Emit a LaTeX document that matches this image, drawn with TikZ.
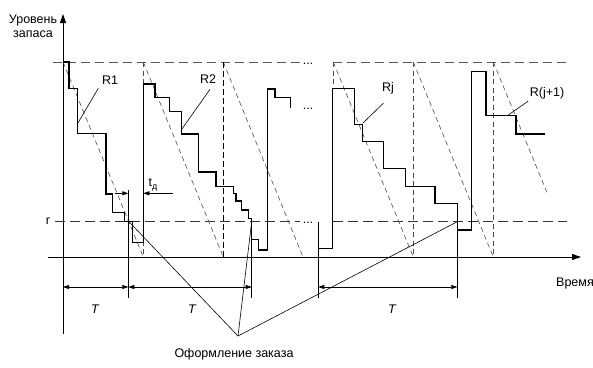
\documentclass[tikz,border=0pt]{standalone}
\usepackage{fontspec}
\setmainfont{Liberation Sans}
\usetikzlibrary{arrows.meta}
\begin{document}
\begin{tikzpicture}[x=1pt,y=-1pt,
  lbl/.style={font=\fontsize{12.5}{14}\selectfont, inner sep=0pt},
  stair/.style={line width=1.05pt, line join=miter},
  axisline/.style={line width=0.9pt, -{Triangle[length=9pt,width=6pt]}},
  thinline/.style={line width=0.6pt},
  demand/.style={line width=0.6pt, gray!60!black, dash pattern=on 5pt off 3.5pt},
  maxlevel/.style={line width=0.7pt, gray!70!black, dash pattern=on 9pt off 5pt},
  reorder/.style={line width=1.3pt, black!80, dash pattern=on 10pt off 5pt},
  cyclemark/.style={line width=1pt, dash pattern=on 6pt off 3pt},
  dimline/.style={line width=0.6pt, {Triangle[length=6pt,width=4pt]}-{Triangle[length=6pt,width=4pt]}},
  tip/.style={line width=0.6pt, -{Triangle[length=6pt,width=4pt]}},
]
\useasboundingbox (0,0) rectangle (593,367);

% axes
\draw[axisline] (63,334) -- (63,14);
\draw[axisline] (48,257) -- (581,257);
\node[lbl, align=center] (ylab) at (33,26) {Уровень\\запаса};
\node[lbl] (xlab) at (575,283) {Время};

% maximum level and reorder level
\draw[maxlevel] (53,62) -- (300,62);
\draw[maxlevel] (333,62) -- (567,62);
\draw[reorder] (55,221.7) -- (300,221.7);
\draw[reorder] (333,221.7) -- (567,221.7);
\node[lbl] (rlab) at (48,221) {r};
\node[lbl, anchor=base] (dots1) at (308,64) {...};
\node[lbl, anchor=base] (dots2) at (308,109) {...};
\node[lbl, anchor=base] (dots3) at (308,223) {...};

% demand lines
\draw[demand] (63,62) -- (143.3,257);
\draw[demand] (143.3,62) -- (223.3,257);
\draw[demand] (223.3,62) -- (303,257);
\draw[demand] (333.3,62) -- (413.3,257);
\draw[demand] (413.3,62) -- (493.3,257);
\draw[demand] (493.3,62) -- (547.3,193.3);
\draw[demand] (143.3,62) -- (143.3,257);
\draw[demand] (413.3,62) -- (413.3,257);
\draw[demand] (493.3,62) -- (493.3,257);
\draw[demand] (333.3,62) -- (333.3,88);
\draw[cyclemark] (223.3,62) -- (223.3,257);

% stock level, first cycles
\draw[stair] (63,62) -- (69,62) -- (69,88.3) -- (77.3,88.3) -- (77.3,133.3)
  -- (106,133.3) -- (106,194) -- (112.7,194) -- (112.7,212.5) -- (124.3,212.5)
  -- (124.3,221.7) -- (132.7,221.7) -- (132.7,242.7) -- (143.3,242.7)
  -- (143.3,84) -- (155,84) -- (155,97.3) -- (169.3,97.3) -- (169.3,111.7)
  -- (181.7,111.7) -- (181.7,134) -- (198.3,134) -- (198.3,172) -- (216,172)
  -- (216,186.3) -- (233.3,186.3) -- (233.3,193.3) -- (236,193.3) -- (236,201)
  -- (241.7,201) -- (241.7,210) -- (248.3,210) -- (248.3,218.3) -- (251.7,218.3)
  -- (251.7,239.3) -- (258.3,239.3) -- (258.3,250) -- (267.3,250) -- (267.3,89)
  -- (275,89) -- (275,97.7) -- (290.7,97.7) -- (290.7,108.3);

% stock level, cycles j and j+1
\draw[stair] (318.3,248.3) -- (332.7,248.3) -- (332.7,88.3) -- (354.3,88.3)
  -- (354.3,124.3) -- (362.3,124.3) -- (362.3,141.7) -- (383.3,141.7)
  -- (383.3,168.3) -- (405.7,168.3) -- (405.7,186.7) -- (435,186.7)
  -- (435,203.3) -- (457.3,203.3) -- (457.3,230) -- (471.7,230) -- (471.7,71.5)
  -- (486,71.5) -- (486,115.5) -- (516,115.5) -- (516,134) -- (545,134);

% curve labels
\node[lbl] (r1) at (110,80) {R1};
\node[lbl] (r2) at (208,79) {R2};
\node[lbl] (rj) at (388,88) {Rj};
\node[lbl] (rj1) at (547,93) {R(j+1)};
\draw[thinline] (98.3,88.3) -- (77.7,123.3);
\draw[thinline] (210,89.3) -- (181.7,129.3);
\draw[thinline] (383.3,103.3) -- (362.7,123.3);
\draw[thinline] (528.3,101) -- (508.3,115);

% period boundaries
\draw[thinline] (128.3,190) -- (128.3,298);
\draw[thinline] (251.7,221.7) -- (251.7,298);
\draw[thinline] (318.3,221.7) -- (318.3,298);
\draw[thinline] (457.3,203.3) -- (457.3,298);
\draw[dimline] (63,287) -- (128.3,287);
\draw[dimline] (128.3,287) -- (251.7,287);
\draw[dimline] (318.3,287) -- (457.3,287);
\node[lbl, font=\fontsize{12.5}{14}\selectfont\itshape] (t1) at (95,309) {T};
\node[lbl, font=\fontsize{12.5}{14}\selectfont\itshape] (t2) at (192,309) {T};
\node[lbl, font=\fontsize{12.5}{14}\selectfont\itshape] (t3) at (392,309) {T};

% lead time
\draw[tip] (115,193.3) -- (128.3,193.3);
\draw[tip] (173.3,193.3) -- (143.3,193.3);
\node[lbl] (td) at (153,185) {t\raisebox{-0.35ex}{\fontsize{9}{10}\selectfont д}};

% order placement
\coordinate (ord) at (238,336);
\coordinate (o1) at (129,221.7);
\coordinate (o2) at (251.7,221.7);
\coordinate (o3) at (457.3,221.7);
\draw[thinline] (o1) -- (ord) -- (o2);
\draw[thinline] (ord) -- (o3);
\node[lbl] (ordlab) at (234,354) {Оформление заказа};
\end{tikzpicture}
\end{document}
